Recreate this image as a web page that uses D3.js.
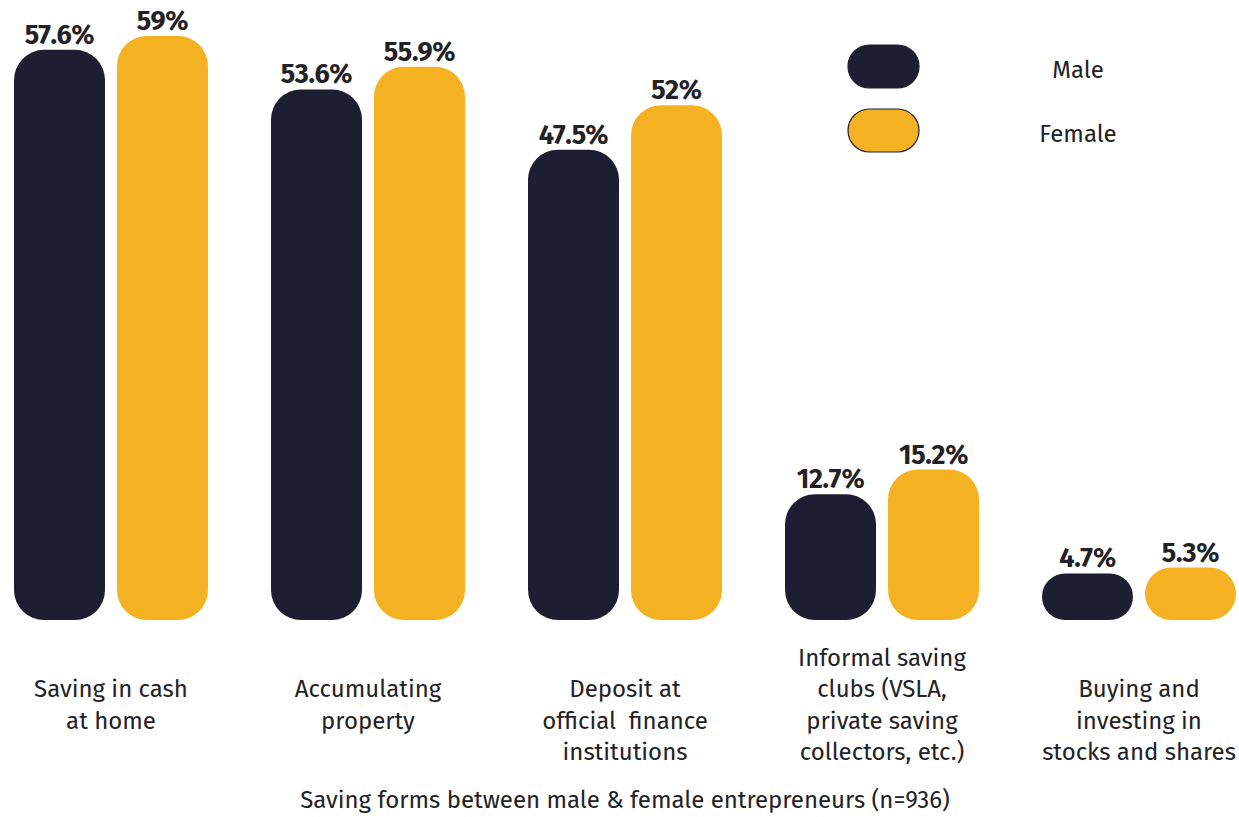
<!DOCTYPE html>
<html>
<head>
<meta charset="utf-8">
<script src="https://cdn.jsdelivr.net/npm/d3@7"></script>
<style>
  html, body { margin: 0; padding: 0; background: #ffffff; }
  svg { display: block; font-family: "Fira Sans", "Roboto", "Noto Sans", sans-serif; }
</style>
</head>
<body>
<svg id="chart" width="1239" height="817"></svg>
<script>
// Saving forms by gender (share of entrepreneurs, %)
const categories = [
  ["Saving in cash", "at home"],
  ["Accumulating", "property"],
  ["Deposit at", "official  finance", "institutions"],
  ["Informal saving", "clubs (VSLA,", "private saving", "collectors, etc.)"],
  ["Buying and", "investing in", "stocks and shares"]
];
const seriesNames = ["Male", "Female"];
const maleValues = [57.6, 53.6, 47.5, 12.7, 4.7];
const femaleValues = [59, 55.9, 52, 15.2, 5.3];
const valueLabels = [["57.6%", "59%"], ["53.6%", "55.9%"], ["47.5%", "52%"], ["12.7%", "15.2%"], ["4.7%", "5.3%"]];
const colors = ["#1e1e32", "#f4b223"];
const axisTitle = "Saving forms between male & female entrepreneurs (n=936)";

const svg = d3.select("#chart");

// Layout constants
const bw = 91;       // bar width
const gap = 12;      // gap between the two bars of a group
const step = 257;    // distance between groups
const left = 14;

const x0 = d3.scaleOrdinal()
  .domain(d3.range(categories.length))
  .range(d3.range(categories.length).map(i => left + i * step));

const x1 = d3.scaleOrdinal()
  .domain(d3.range(seriesNames.length))
  .range(d3.range(seriesNames.length).map(s => s * (bw + gap)));

const y = d3.scaleLinear().domain([0, 59]).range([620, 36]);

const data = categories.map((c, i) => ({
  i,
  lines: c,
  vals: [maleValues[i], femaleValues[i]]
}));

const groups = svg.selectAll("g.group")
  .data(data)
  .join("g")
  .attr("class", "group")
  .attr("transform", d => `translate(${x0(d.i)},0)`);

groups.selectAll("rect.bar")
  .data(d => d.vals.map((v, s) => ({ v, s, i: d.i })))
  .join("rect")
  .attr("class", "bar")
  .attr("x", d => x1(d.s))
  .attr("y", d => y(d.v))
  .attr("width", bw)
  .attr("height", d => y(0) - y(d.v))
  .attr("rx", d => Math.min(30, (y(0) - y(d.v)) / 2))
  .attr("fill", d => colors[d.s]);

groups.selectAll("text.value")
  .data(d => d.vals.map((v, s) => ({ v, s, i: d.i })))
  .join("text")
  .attr("class", "value")
  .attr("x", d => x1(d.s) + bw / 2)
  .attr("y", d => y(d.v) - 6)
  .attr("text-anchor", "middle")
  .attr("font-size", 27)
  .attr("font-weight", 700)
  .attr("letter-spacing", -0.3)
  .attr("fill", "#222226")
  .text(d => valueLabels[d.i][d.s]);

// Category labels below the bars
const lineH = 31.5;
groups.append("text")
  .attr("class", "cat")
  .attr("text-anchor", "middle")
  .attr("font-size", 24)
  .attr("fill", "#222226")
  .each(function (d) {
    const t = d3.select(this);
    const start = 697 - Math.max(0, d.lines.length - 3) * lineH;
    d.lines.forEach((ln, k) => {
      t.append("tspan")
        .attr("x", bw + gap / 2)
        .attr("y", start + k * lineH)
        .attr("xml:space", "preserve")
        .style("white-space", "pre")
        .text(ln);
    });
  });

// Axis title
svg.append("text")
  .attr("x", 625)
  .attr("y", 808)
  .attr("text-anchor", "middle")
  .attr("font-size", 24)
  .attr("fill", "#222226")
  .text(axisTitle);

// Legend
const legend = svg.append("g").attr("class", "legend");
seriesNames.forEach((name, s) => {
  const ly = 45 + s * 64;
  legend.append("rect")
    .attr("x", 848)
    .attr("y", ly)
    .attr("width", 71)
    .attr("height", 43)
    .attr("rx", 21.5)
    .attr("fill", colors[s])
    .attr("stroke", "#1e1e32")
    .attr("stroke-width", 1.2);
  legend.append("text")
    .attr("x", 1078)
    .attr("y", ly + 33)
    .attr("text-anchor", "middle")
    .attr("font-size", 24)
    .attr("fill", "#222226")
    .text(name);
});
</script>
</body>
</html>
